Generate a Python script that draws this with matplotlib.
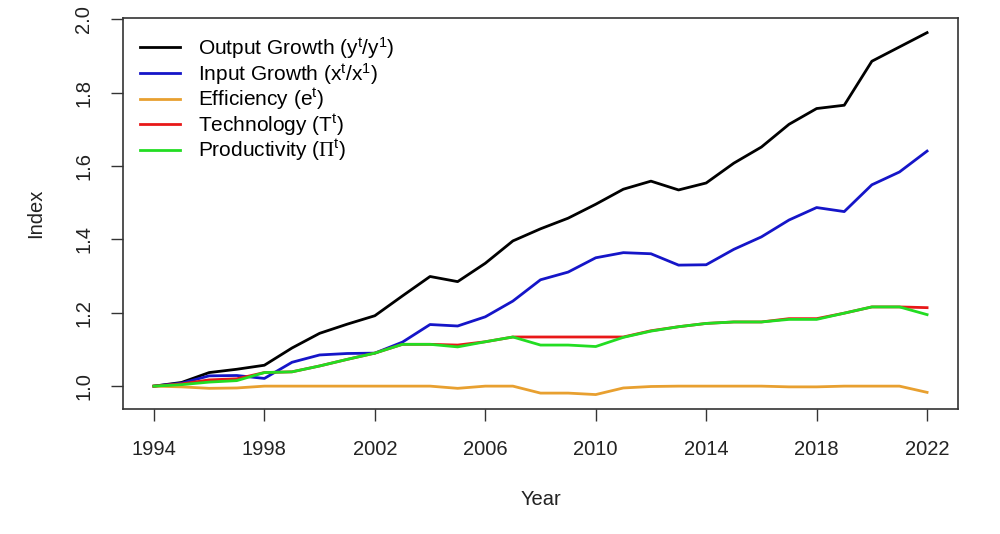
import matplotlib
matplotlib.use("Agg")
import matplotlib.pyplot as plt
import numpy as np

years = list(range(1994, 2023))
output_growth = [1.000, 1.010, 1.037, 1.046, 1.057, 1.104, 1.144, 1.169, 1.192, 1.246,
                 1.299, 1.285, 1.335, 1.396, 1.429, 1.458, 1.496, 1.537, 1.559, 1.535,
                 1.554, 1.608, 1.652, 1.714, 1.757, 1.766, 1.886, 1.925, 1.964]
input_growth = [1.000, 1.008, 1.028, 1.029, 1.021, 1.065, 1.085, 1.089, 1.090, 1.120,
                1.168, 1.164, 1.189, 1.232, 1.290, 1.311, 1.350, 1.364, 1.361, 1.330,
                1.331, 1.373, 1.407, 1.453, 1.487, 1.476, 1.549, 1.584, 1.641]
efficiency = [1.000, 0.998, 0.994, 0.995, 1.000, 1.000, 1.000, 1.000, 1.000, 1.000,
              1.000, 0.994, 1.000, 1.000, 0.981, 0.981, 0.977, 0.995, 0.999, 1.000,
              1.000, 1.000, 1.000, 0.998, 0.998, 1.000, 1.000, 1.000, 0.983]
technology = [1.000, 1.006, 1.017, 1.020, 1.037, 1.039, 1.055, 1.073, 1.090, 1.114,
              1.114, 1.112, 1.121, 1.134, 1.134, 1.134, 1.134, 1.134, 1.151, 1.162,
              1.171, 1.175, 1.175, 1.184, 1.184, 1.199, 1.216, 1.216, 1.214]
productivity = [1.000, 1.004, 1.011, 1.015, 1.037, 1.039, 1.055, 1.073, 1.090, 1.114,
                1.114, 1.107, 1.121, 1.134, 1.112, 1.112, 1.108, 1.133, 1.150, 1.162,
                1.171, 1.175, 1.175, 1.182, 1.182, 1.199, 1.216, 1.216, 1.195]

labels = [r"Output Growth ($\mathsf{y^t/y^1}$)",
          r"Input Growth ($\mathsf{x^t/x^1}$)",
          r"Efficiency ($\mathsf{e^t}$)",
          r"Technology ($\mathsf{T^t}$)",
          r"Productivity ($\mathrm{\Pi}^{\mathsf{t}}$)"]
x_ticks = [1994, 1998, 2002, 2006, 2010, 2014, 2018, 2022]
y_ticks = [1.0, 1.2, 1.4, 1.6, 1.8, 2.0]

plt.rcParams['font.family'] = ['Liberation Sans', 'DejaVu Sans']
plt.rcParams['mathtext.fontset'] = 'custom'
plt.rcParams['mathtext.sf'] = 'Liberation Sans'
plt.rcParams['mathtext.rm'] = 'Liberation Serif'
plt.rcParams['mathtext.it'] = 'Liberation Sans:italic'

fig = plt.figure(figsize=(10, 5.34), dpi=100)
ax = fig.add_axes([0.123, 0.234, 0.835, 0.732])

colors = ['black', '#1515c8', '#E8A030', '#E81818', '#22DD22']
series = [output_growth, input_growth, efficiency, technology, productivity]
for s, c, l in zip(series, colors, labels):
    ax.plot(years, s, color=c, lw=2.0, label=l, solid_joinstyle='round')

allv = np.concatenate([np.array(s) for s in series])
ymin, ymax = allv.min(), allv.max()
pad_y = 0.04 * (ymax - ymin)
ax.set_ylim(ymin - pad_y, ymax + pad_y)
pad_x = 0.04 * (years[-1] - years[0])
ax.set_xlim(years[0] - pad_x, years[-1] + pad_x)

ax.set_xticks(x_ticks)
ax.set_xticklabels([str(t) for t in x_ticks])
ax.set_yticks(y_ticks)
ax.set_yticklabels([f"{t:.1f}" for t in y_ticks], rotation=90, va='center')

ax.tick_params(axis='both', direction='out', length=8.5, width=1.0, color='#333333',
               labelsize=14.5, labelcolor='#222222')
ax.tick_params(axis='x', pad=14)
ax.tick_params(axis='y', pad=13)
for sp in ax.spines.values():
    sp.set_color('#333333')
    sp.set_linewidth(1.2)

ax.set_xlabel("Year", fontsize=14.5, color='#222222', labelpad=22)
ax.set_ylabel("Index", fontsize=14.5, color='#222222', labelpad=21)

ax.legend(loc='upper left', frameon=False, fontsize=15, handlelength=1.95,
          handletextpad=0.85, labelspacing=0.0, borderaxespad=0.4,
          bbox_to_anchor=(0.0, 1.0))

fig.savefig("out.png", dpi=100)
